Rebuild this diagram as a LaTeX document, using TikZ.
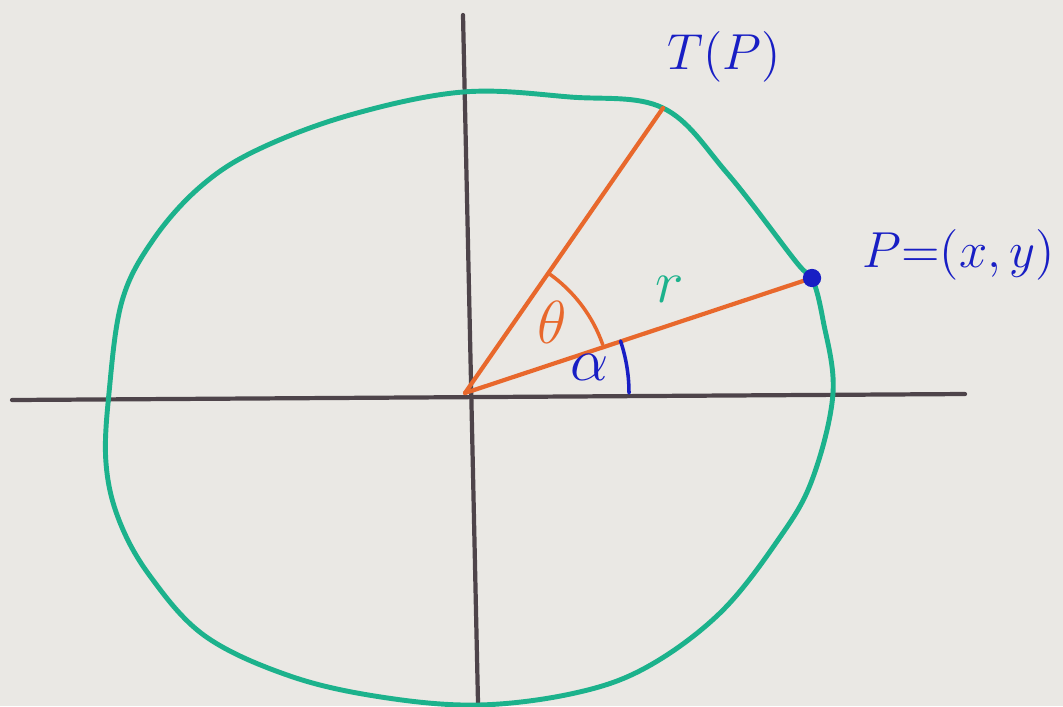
\documentclass[tikz,border=0pt]{standalone}
\usepackage{amsmath,amssymb}
\usetikzlibrary{arrows.meta,positioning}
\definecolor{paper}{RGB}{234,232,228}
\definecolor{axisgray}{RGB}{78,68,74}
\definecolor{circgreen}{RGB}{28,178,140}
\definecolor{rayorange}{RGB}{232,104,44}
\definecolor{inkblue}{RGB}{24,30,196}
\tikzset{
  axisline/.style={draw=axisgray,line width=1.2pt},
  ray/.style={draw=rayorange,line width=1.2pt},
  lbl/.style={font=\Large,text=inkblue}
}
\begin{document}
\begin{tikzpicture}[every node/.style={font=\large},>=Latex,line cap=round]
\fill[paper] (0,0) rectangle (10.63,7.06);
\useasboundingbox (0,0) rectangle (10.63,7.06);
% axes
\coordinate (O) at (4.65,3.13);
\coordinate (xl) at (0.12,3.06); \coordinate (xr) at (9.65,3.12);
\coordinate (yt) at (4.63,6.91); \coordinate (yb) at (4.78,0.03);
\draw[axisline] (xl) -- (xr);
\draw[axisline] (yt) -- (yb);
% the circle
\draw[circgreen,line width=1.4pt,line join=round] plot[smooth cycle,tension=0.6] coordinates {
  (6.63,5.98) (7.27,5.33) (7.97,4.43) (8.12,4.28) (8.23,3.86) (8.33,3.13)
  (8.12,2.26) (7.78,1.66) (7.20,0.93) (6.47,0.39) (5.75,0.13) (4.78,0.01)
  (3.81,0.09) (2.90,0.30) (2.05,0.70) (1.50,1.30) (1.19,1.86) (1.06,2.43)
  (1.09,3.13) (1.22,4.05) (1.53,4.66) (2.00,5.19) (2.57,5.56) (3.50,5.91)
  (4.63,6.14) (5.70,6.09)};
% rays
\coordinate (P) at (8.12,4.28);
\coordinate (T) at (6.63,5.98);
\draw[ray] (O) -- (P);
\draw[ray] (O) -- (T);
\fill[inkblue] (P) circle (2.6pt);
% angles
\draw[rayorange,line width=1pt] ([shift={(19.3:1.46)}]O) arc (19.3:55.3:1.46);
\draw[inkblue,line width=1pt] ([shift={(0:1.64)}]O) arc (0:18.5:1.64);
% labels
\node[text=rayorange,font=\LARGE] (th) at (5.52,3.84) {$\theta$};
\node[text=circgreen,font=\LARGE] (r) at (6.70,4.17) {$r$};
\node[text=inkblue,font=\LARGE] (al) at (5.90,3.39) {$\alpha$};
\node[lbl] (tp) at (7.24,6.49) {$T(P)$};
\node[lbl,anchor=west] (pp) at (8.50,4.51) {$P{=}(x,y)$};
\end{tikzpicture}
\end{document}
